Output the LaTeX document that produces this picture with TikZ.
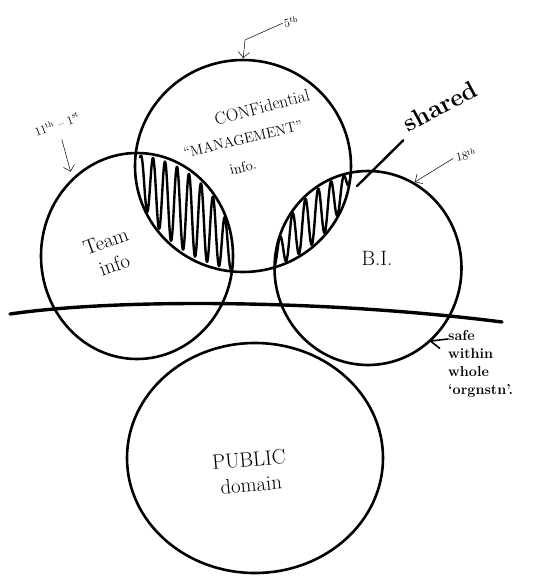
\documentclass[tikz,border=0pt]{standalone}
\usepackage{tikz}
\usetikzlibrary{arrows.meta,shapes.geometric}

\begin{document}
\begin{tikzpicture}[
  x=1pt, y=-1pt,
  blob/.style={draw,ellipse,line width=2.6pt,inner sep=0pt,outer sep=0pt},
  hatch/.style={line width=2.4pt,line join=round},
  txt/.style={font=\huge,inner sep=1pt},
  note/.style={font=\large,inner sep=1pt},
  notearr/.style={-{Straight Barb[length=2mm]},line width=0.5pt},
  pointer/.style={line width=2.4pt,line cap=round},
  declare function={
    teamtop(\t)=256-103*sqrt(max(0,1-((\t-137)/96)^2));
    mgmtbot(\t)=166+106*sqrt(max(0,1-((\t-243)/108)^2));
    bitop(\t)=268-97*sqrt(max(0,1-((\t-368)/93.5)^2));
  }
]
\useasboundingbox (0,0) rectangle (544,577);

% the four circles
\node[blob,minimum width=216pt,minimum height=212pt] (mgmt) at (243,166) {};
\node[blob,minimum width=192pt,minimum height=206pt] (team) at (137,256) {};
\node[blob,minimum width=187pt,minimum height=194pt] (bi) at (368,268) {};
\node[blob,minimum width=256pt,minimum height=230pt] (public) at (255,458) {};

% shared overlaps
\begin{scope}
  \clip (team.center) ellipse [x radius=96pt, y radius=103pt];
  \clip (mgmt.center) ellipse [x radius=108pt, y radius=106pt];
  \draw[hatch] plot[domain=140:233,samples=300]
    (\x,{0.5*(teamtop(\x)+mgmtbot(\x))+0.45*(mgmtbot(\x)-teamtop(\x))*sin(30*\x)});
\end{scope}
\begin{scope}
  \clip (bi.center) ellipse [x radius=93.5pt, y radius=97pt];
  \clip (mgmt.center) ellipse [x radius=108pt, y radius=106pt];
  \draw[hatch] plot[domain=275:352,samples=300]
    (\x,{0.5*(bitop(\x)+mgmtbot(\x))+0.45*(mgmtbot(\x)-bitop(\x))*sin(28*\x)});
\end{scope}

% dividing line
\coordinate (edgeL) at (10,314);
\coordinate (edgeR) at (502,322);
\draw[line width=3.4pt,line cap=round] (edgeL) .. controls (120,298) and (330,300) .. (edgeR);

% labels inside
\node[font=\LARGE,rotate=15] (conf) at (262,107) {CONFidential};
\node[font=\Large,rotate=13] (mgmtname) at (243,139) {``MANAGEMENT''};
\node[font=\Large,rotate=13] (mgmtinfo) at (243,167) {info.};
\node[txt,rotate=20,align=center] (teamtxt) at (110,253) {Team\\info};
\node[txt] (bitxt) at (377,258) {B.I.};
\node[txt,rotate=5,align=center] (pubtxt) at (250,472) {PUBLIC\\domain};

% notes
\node[note,rotate=8] (fifth) at (291,22) {5\textsuperscript{th}};
\coordinate (fifthbend) at (245,40);
\draw[notearr,shorten >=2pt] (fifth.west) -- (fifthbend) -- (mgmt.north);
\node[note,rotate=20] (eleventh) at (57,124) {11\textsuperscript{th} -- 1\textsuperscript{st}};
\draw[notearr,shorten <=10pt,shorten >=8pt] (eleventh.south) -- (team.130);
\node[note,rotate=12] (eighteenth) at (466,155) {18\textsuperscript{th}};
\draw[notearr,shorten <=2pt,shorten >=2pt] (eighteenth.west) -- (bi.62);

\node[font=\Huge\bfseries,rotate=28] (shared) at (440,106) {shared};
\coordinate (sharedtip) at (357,186);
\draw[pointer] ([xshift=-4pt,yshift=-3pt]shared.south west) -- (sharedtip);

\node[font=\Large\bfseries,align=left,anchor=north west,inner sep=0pt] (safe) at (448,330)
  {safe\\within\\whole\\`orgnstn'.};
\draw[-{Straight Barb[length=3mm]},line width=1.6pt] ([yshift=-9pt]safe.north west) -- (bi.-50);
\end{tikzpicture}
\end{document}
